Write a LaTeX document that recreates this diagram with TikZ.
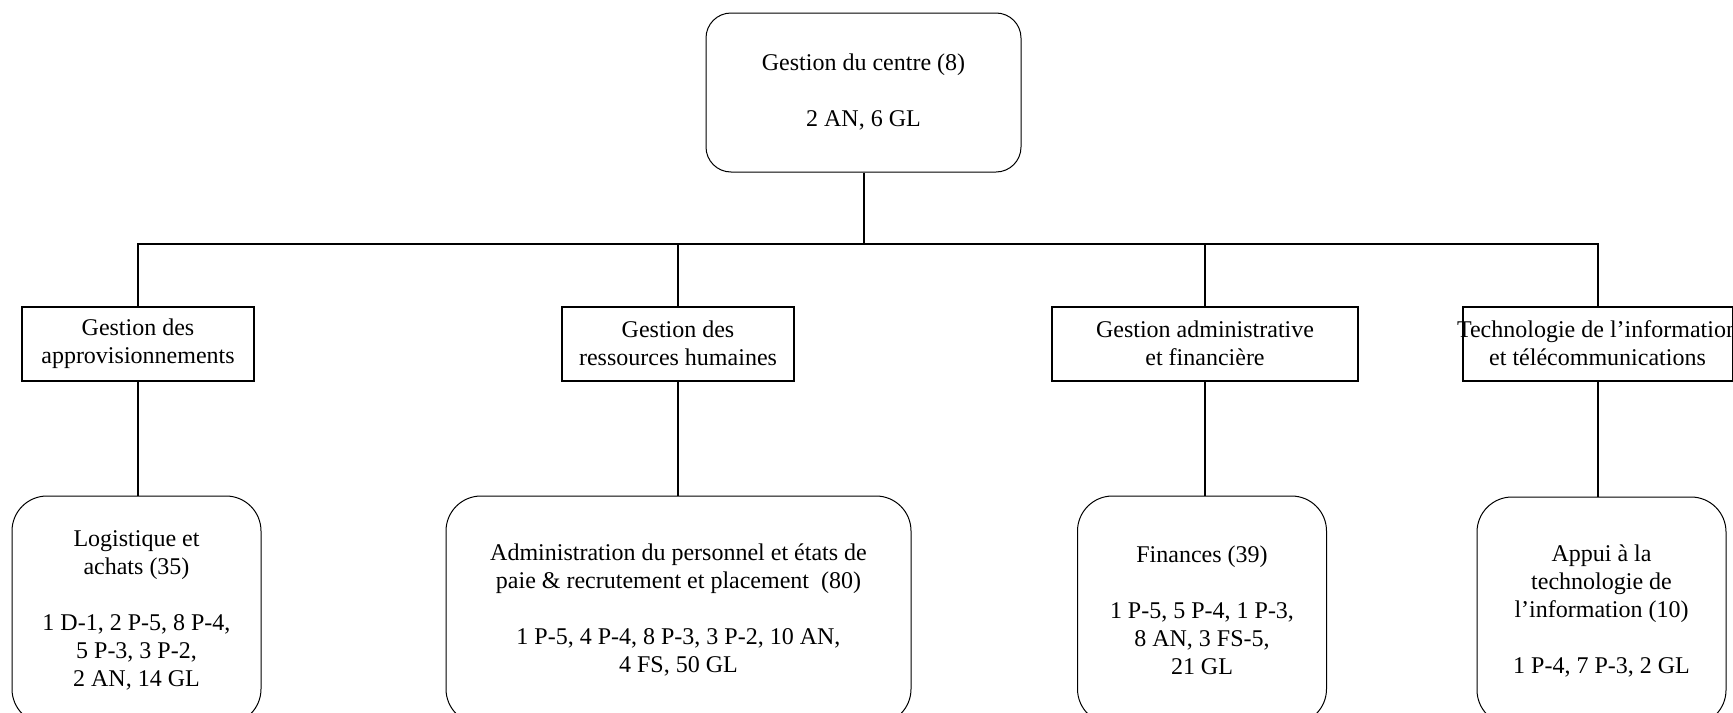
\documentclass[tikz,border=0pt]{standalone}
\usepackage{fontspec}
\setmainfont{Liberation Serif}
\usepackage{tikz}
\usetikzlibrary{positioning}
\tikzset{
    %Define style for the head box
    head/.style={
           rectangle,
           rounded corners=12.5pt,
           draw=black, line width=.5pt,
           minimum width=157.5pt,
           minimum height=79.5pt,
           inner sep=0pt,
           font=\fontsize{12}{14}\selectfont,
           align=center},
    %Define style for the unit boxes
    unit/.style={
           rectangle,
           draw=black, line width=1pt,
           minimum height=37pt,
           inner sep=0pt,
           font=\fontsize{12}{14}\selectfont,
           align=center},
    %Define style for the section boxes
    section/.style={
           rectangle,
           rounded corners=17.5pt,
           draw=black, line width=.5pt,
           minimum width=124.5pt,
           minimum height=114pt,
           inner sep=0pt,
           font=\fontsize{12}{14}\selectfont,
           align=center},
    % Define connector style
    link/.style={
           line width=1pt}
}
\begin{document}
\begin{tikzpicture}[x=0.5pt,y=-0.5pt]
\useasboundingbox (0,0) rectangle (1733,712);
\node[head] (centre) at (863.5,92.5) {Gestion du centre (8)\\[14pt]2 AN, 6 GL};
\coordinate (bar) at (863.5,244);
\node[unit, minimum width=116pt] (appro) at (138,343.5) {Gestion des\\approvisionnements};
\node[unit, minimum width=116pt] (rh) at (678,343.5) {Gestion des\\ressources humaines};
\node[unit, minimum width=153pt] (admin) at (1205,343.5) {Gestion administrative\\et financière};
\node[unit, minimum width=135pt] (tic) at (1597.5,343.5) {\makebox[0pt]{Technologie de l’information}\\\makebox[0pt]{et télécommunications}};
\node[section] (logist) at (136.5,610) {Logistique et\\achats (35)\\[14pt]1 D-1, 2 P-5, 8 P-4,\\5 P-3, 3 P-2,\\2 AN, 14 GL};
\node[section, minimum width=232.5pt] (perso) at (678.5,610) {Administration du personnel et états de\\paie \& recrutement et placement~ (80)\\[14pt]1 P-5, 4 P-4, 8 P-3, 3 P-2, 10 AN,\\4 FS, 50 GL};
\node[section] (fin) at (1202,610) {Finances (39)\\[14pt]1 P-5, 5 P-4, 1 P-3,\\8 AN, 3 FS-5,\\21 GL};
\node[section] (appui) at (1601.5,611) {Appui à la\\technologie de\\l’information (10)\\[14pt]1 P-4, 7 P-3, 2 GL};
\draw[link] (centre.south) -- (bar);
\draw[link] (appro.north) |- (bar) -| (tic.north);
\draw[link] (rh.north) -- (rh.north |- bar);
\draw[link] (admin.north) -- (admin.north |- bar);
\draw[link] (appro.south) -- (appro.south |- logist.north);
\draw[link] (rh.south) -- (rh.south |- perso.north);
\draw[link] (admin.south) -- (admin.south |- fin.north);
\draw[link] (tic.south) -- (tic.south |- appui.north);
\end{tikzpicture}
\end{document}
